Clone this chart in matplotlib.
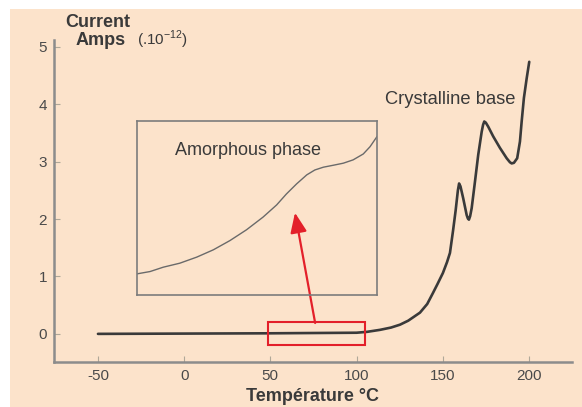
import matplotlib
matplotlib.use("Agg")
import matplotlib.pyplot as plt
from matplotlib.patches import Rectangle

# ---- data ----
temperature = [-50, 0, 50, 100, 106, 113.6, 120, 125.2, 130, 136.8, 141, 144.3, 147,
               150.1, 152.5, 154.2, 156, 157.5, 158.8, 159.5, 160.3, 161.9, 163.9,
               164.6, 165.2, 165.9, 166.8, 168.7, 170.6, 172.6, 173.4, 174.1, 175.0,
               176.4, 179.3, 183.2, 187.1, 189.0, 190.0, 191.3, 193.2,
               194.8, 195.8, 197.1, 198.7, 200.2]
current = [0.0, 0.005, 0.01, 0.02, 0.035, 0.07, 0.11, 0.16, 0.23, 0.37, 0.52, 0.71, 0.87,
           1.06, 1.25, 1.41, 1.80, 2.15, 2.50, 2.62, 2.57, 2.36, 2.07,
           2.01, 1.99, 2.05, 2.19, 2.65, 3.12, 3.52, 3.64, 3.70, 3.68,
           3.61, 3.44, 3.24, 3.06, 2.99, 2.97, 2.98, 3.06,
           3.35, 3.70, 4.11, 4.45, 4.74]

inset_temp = [48.6, 51.6, 54.7, 58.6, 62.6, 66.5, 70.4, 74.3, 78.2, 81.4, 83.7, 86.1,
              88.5, 90.4, 92.4, 94.7, 97.1, 99.4, 101.8, 103.4, 105.0]
inset_level = [0.121, 0.134, 0.159, 0.182, 0.217, 0.259, 0.312, 0.374, 0.447, 0.517, 0.580,
               0.638, 0.690, 0.718, 0.734, 0.745, 0.757, 0.776, 0.810, 0.852, 0.909]

x_ticks = [-50, 0, 50, 100, 150, 200]
y_ticks = [0, 1, 2, 3, 4, 5]

W, H = 582, 407
plt.rcParams["font.family"] = ["Liberation Sans", "DejaVu Sans"]
plt.rcParams["mathtext.fontset"] = "custom"
plt.rcParams["mathtext.rm"] = "Liberation Sans"
plt.rcParams["axes.unicode_minus"] = False
fig = plt.figure(figsize=(W / 100, H / 100), dpi=100, facecolor="white")

def fx(px):
    return px / W

def fy(py):
    return 1 - py / H

# peach background panel
fig.patches.append(Rectangle((fx(10), 0), 1 - fx(10), fy(9), transform=fig.transFigure,
                             facecolor="#fce3cb", edgecolor="none", zorder=-10))

ax = fig.add_axes([fx(54), fy(362), fx(572) - fx(54), fy(40) - fy(362)])
ax.set_facecolor("none")
ax.set_xlim(-75.5, 225)
ax.set_ylim(-0.49, 5.12)

for s in ["top", "right"]:
    ax.spines[s].set_visible(False)
for s in ["left", "bottom"]:
    ax.spines[s].set_color("#8c8c8c")
    ax.spines[s].set_linewidth(1.8)

ax.set_xticks(x_ticks)
ax.set_yticks(y_ticks)
ax.tick_params(direction="in", length=4, width=0.8, color="#b0a898",
               labelsize=11, labelcolor="#4a4a4a", pad=5)

ax.plot(temperature, current, color="#3a3a3a", lw=1.9, solid_capstyle="round",
        solid_joinstyle="round", zorder=3)

# red zoom rectangle and arrow
ax.add_patch(Rectangle((48.5, -0.2), 56.5, 0.4, fill=False, edgecolor="#e3202a", lw=1.5, zorder=4))
ax.annotate("", xy=(64.3, 2.11), xytext=(76, 0.19),
            arrowprops=dict(arrowstyle="-|>,head_length=0.6,head_width=0.25",
                            mutation_scale=20, color="#e3202a", lw=1.6,
                            shrinkA=0, shrinkB=0), zorder=5)

# inset
ins = ax.inset_axes([-27.4, 0.68, 139.2, 3.03], transform=ax.transData)
ins.set_facecolor("none")
ins.set_xlim(48.5, 105)
ins.set_ylim(0, 1)
ins.set_xticks([])
ins.set_yticks([])
for s in ins.spines.values():
    s.set_color("#7c7c7c")
    s.set_linewidth(1.2)
ins.plot(inset_temp, inset_level, color="#6a6a6a", lw=1.0, solid_joinstyle="round")

tc = "#3a3a3a"
fig.text(fx(175), fy(155), "Amorphous phase", fontsize=13, color=tc, va="baseline", ha="left")
fig.text(fx(385), fy(104), "Crystalline base", fontsize=13.2, color=tc, va="baseline", ha="left")
fig.text(fx(65), fy(27), "Current", fontsize=13, fontweight="bold", color=tc, va="baseline")
fig.text(fx(76), fy(45), "Amps", fontsize=13, fontweight="bold", color=tc, va="baseline")
fig.text(fx(137), fy(45), r"(.10$^{-12}$)", fontsize=11, color=tc, va="baseline")
fig.text(fx(313), fy(401), "Température °C", fontsize=13, fontweight="bold", color=tc,
         va="baseline", ha="center")

fig.savefig("out.png", dpi=100, facecolor="white")
